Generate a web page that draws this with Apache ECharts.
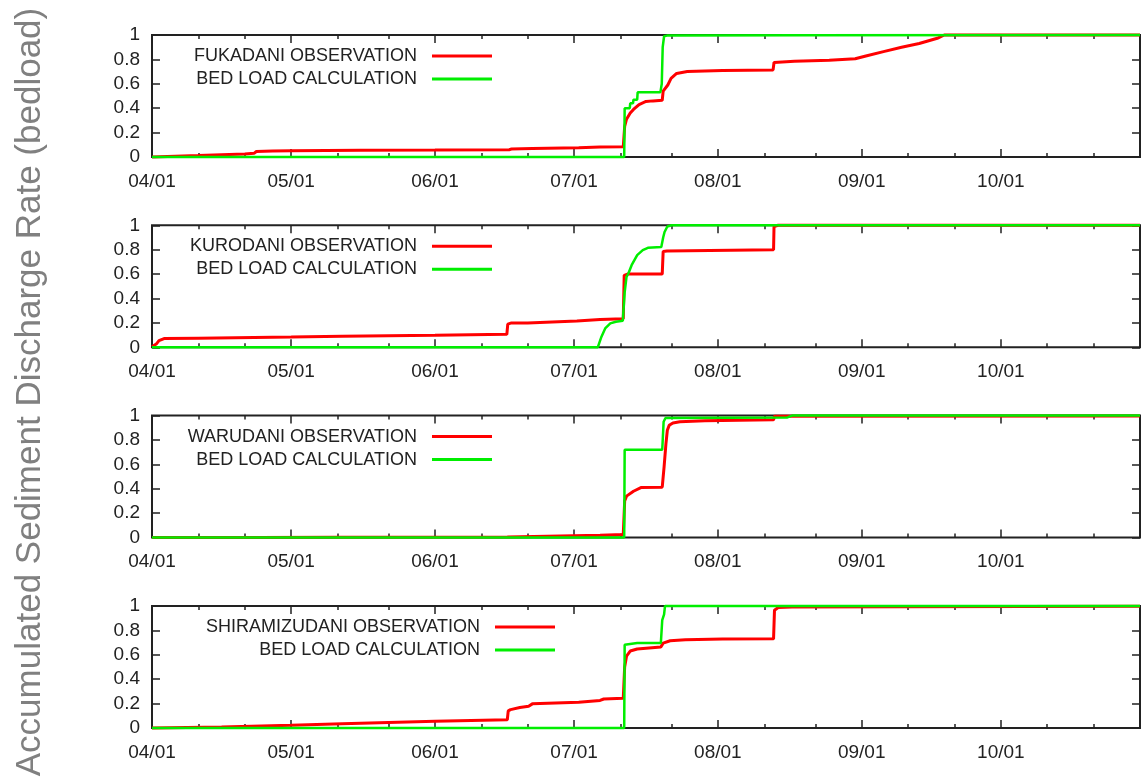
<!DOCTYPE html>
<html>
<head>
<meta charset="utf-8">
<title>Accumulated Sediment Discharge Rate (bedload)</title>
<script src="https://cdn.jsdelivr.net/npm/echarts@6/dist/echarts.min.js"></script>
<style>
  html, body { margin: 0; padding: 0; background: #fff; }
  #chart { width: 1148px; height: 782px; }
</style>
</head>
<body>
<div id="chart"></div>
<script>
// x values are days counted from 04/01
const monthStarts = [0, 30, 61, 91, 122, 153, 183];
const monthLabels = ['04/01', '05/01', '06/01', '07/01', '08/01', '09/01', '10/01'];
const minorTicks = [10, 20, 40, 51, 71, 81, 101, 112, 132, 143, 163, 173, 193, 203];
const lastDay = 213;

const stations = ['FUKADANI', 'KURODANI', 'WARUDANI', 'SHIRAMIZUDANI'];

// [day, accumulated rate]
const fukadaniObs = [
    [0, 0], [10, 0.012], [20, 0.025], [22, 0.03], [22.5, 0.045], [26, 0.05], [30, 0.052], [45, 0.055],
    [61, 0.057], [77, 0.06], [77.5, 0.065], [82, 0.07], [92, 0.075], [96.6, 0.082], [101.6, 0.085],
    [101.9, 0.25], [102.3, 0.31], [103.1, 0.36], [103.8, 0.39], [105, 0.43], [106.5, 0.455], [108, 0.46],
    [110, 0.465], [110.2, 0.54], [111.2, 0.59], [111.9, 0.645], [113.1, 0.685], [115.4, 0.7], [123, 0.708],
    [133.9, 0.714], [134.1, 0.775], [138.5, 0.785], [146, 0.793], [151.6, 0.805], [153.9, 0.828],
    [157.7, 0.864], [161.6, 0.9], [165.4, 0.93], [169.3, 0.973], [170.8, 1], [213, 1]
];
const fukadaniCalc = [
    [0, 0], [101.8, 0], [101.9, 0.4], [103, 0.4], [103.1, 0.44], [103.7, 0.44], [103.8, 0.47],
    [104.6, 0.47], [104.7, 0.53], [109.6, 0.53], [109.9, 0.6], [110.1, 0.9], [110.4, 0.99],
    [111, 0.995], [140, 0.998], [213, 1]
];

const kurodaniObs = [
    [0, 0.005], [0.3, 0.02], [1, 0.03], [1.5, 0.055], [2.6, 0.072], [10, 0.075], [30, 0.084], [41, 0.09],
    [61, 0.098], [76.5, 0.106], [76.7, 0.19], [77.5, 0.2], [81, 0.2], [91.6, 0.215], [96.6, 0.228],
    [101.6, 0.235], [101.8, 0.59], [102.5, 0.6], [110, 0.6], [110.2, 0.785], [111, 0.79], [134, 0.8],
    [134.1, 0.99], [135, 1], [213, 1]
];
const kurodaniCalc = [
    [0, 0], [96.1, 0], [96.9, 0.087], [97.7, 0.155], [98.8, 0.196], [100, 0.21], [101.5, 0.218],
    [101.9, 0.45], [102.3, 0.578], [102.7, 0.605], [103.4, 0.673], [104.6, 0.755], [105.8, 0.796],
    [106.9, 0.815], [109.8, 0.823], [110.2, 0.9], [110.5, 0.945], [111.1, 0.99], [112, 1], [213, 1]
];

const warudaniObs = [
    [0, 0], [23, 0], [40, 0.003], [76.6, 0.005], [77, 0.01], [96.6, 0.02], [101.6, 0.025],
    [101.9, 0.3], [102.3, 0.34], [102.7, 0.35], [103.8, 0.38], [105.4, 0.41], [110, 0.413],
    [110.4, 0.58], [110.8, 0.77], [111.1, 0.88], [111.5, 0.92], [112.3, 0.94], [113.8, 0.95],
    [119.2, 0.958], [134, 0.965], [134.2, 0.995], [213, 0.997]
];
const warudaniCalc = [
    [0, 0], [101.8, 0], [101.9, 0.72], [110, 0.72], [110.3, 0.95], [110.7, 0.98], [137, 0.985],
    [138, 1], [213, 1]
];

const shiramizuObs = [
    [0, 0], [15, 0.008], [30, 0.022], [41, 0.035], [61, 0.054], [76.6, 0.067], [76.8, 0.14],
    [77.3, 0.15], [79.3, 0.167], [81.2, 0.178], [82, 0.197], [92, 0.21], [96.6, 0.225], [97.4, 0.237],
    [101.6, 0.243], [101.9, 0.5], [102.3, 0.588], [103.1, 0.63], [104.6, 0.647], [109.7, 0.663],
    [110.2, 0.695], [111.7, 0.714], [115, 0.722], [123, 0.728], [134, 0.73], [134.2, 0.965],
    [135, 0.987], [138, 0.99], [213, 0.997]
];
const shiramizuCalc = [
    [0, 0], [101.8, 0], [101.9, 0.682], [104.6, 0.695], [109.7, 0.695], [110, 0.884], [110.4, 0.93],
    [110.6, 1], [213, 1]
];

const observed = [fukadaniObs, kurodaniObs, warudaniObs, shiramizuObs];
const calculated = [fukadaniCalc, kurodaniCalc, warudaniCalc, shiramizuCalc];

const chart = echarts.init(document.getElementById('chart'));
const font = '"Liberation Sans", Arial, sans-serif';
const ink = '#222';

let grid = [], xAxis = [], yAxis = [], legend = [], series = [];

function xAx(i, position, ticks, len, labels) {
    return {
        type: 'value', gridIndex: i, min: 0, max: lastDay, position: position,
        axisLine: { show: false, onZero: false },
        splitLine: { show: false },
        axisTick: { show: true, inside: true, length: len, customValues: ticks, lineStyle: { color: ink, width: 1.5 } },
        axisLabel: labels ? {
            show: true, customValues: monthStarts, margin: 15,
            fontSize: 19, color: ink, fontFamily: font,
            formatter: v => monthLabels[monthStarts.indexOf(v)]
        } : { show: false }
    };
}

function yAx(i, position, labels) {
    return {
        type: 'value', gridIndex: i, min: 0, max: 1, interval: 0.2, position: position,
        axisLine: { show: false, onZero: false },
        splitLine: { show: false },
        axisTick: { show: true, inside: true, length: 8, lineStyle: { color: ink, width: 1.5 } },
        axisLabel: labels ? { show: true, margin: 12, fontSize: 19, color: ink, fontFamily: font } : { show: false }
    };
}

stations.forEach((name, i) => {
    const top = 35 + i * 190.3;
    grid.push({
        left: 152, right: 8, top: top, height: 122,
        show: true, borderColor: ink, borderWidth: 2, outerBoundsMode: 'none'
    });

    const xi = xAxis.length;
    xAxis.push(xAx(i, 'bottom', monthStarts, 8, true));
    xAxis.push(xAx(i, 'bottom', minorTicks, 4, false));
    xAxis.push(xAx(i, 'top', monthStarts, 8, false));
    xAxis.push(xAx(i, 'top', minorTicks, 4, false));

    const yi = yAxis.length;
    yAxis.push(yAx(i, 'left', true));
    yAxis.push(yAx(i, 'right', false));

    const obsName = name + ' OBSERVATION';
    legend.push({
        data: [obsName, 'BED LOAD CALCULATION'],
        orient: 'vertical', align: 'right',
        right: i === 3 ? 593 : 656, top: top + 11,
        padding: 0, itemWidth: 60, itemHeight: 3, itemGap: 3,
        icon: 'rect', itemStyle: { borderWidth: 0 },
        selectedMode: false,
        formatter: n => n + '  ',
        textStyle: { fontSize: 18, color: ink, fontFamily: font, lineHeight: 20 }
    });

    series.push({
        type: 'line', name: obsName, xAxisIndex: xi, yAxisIndex: yi,
        data: observed[i], showSymbol: false, symbol: 'none',
        color: '#ff0000', lineStyle: { width: 3, color: '#ff0000' },
        clip: false, z: 3
    });
    series.push({
        type: 'line', name: 'BED LOAD CALCULATION', xAxisIndex: xi, yAxisIndex: yi,
        data: calculated[i], showSymbol: false, symbol: 'none',
        color: '#00ee00', lineStyle: { width: 2.5, color: '#00ee00' },
        clip: false, z: 4
    });
});

let option = {
    backgroundColor: '#fff',
    animation: false,
    textStyle: { fontFamily: font },
    grid: grid,
    xAxis: xAxis,
    yAxis: yAxis,
    legend: legend,
    series: series,
    graphic: [{
        type: 'text', x: 30, y: 392, rotation: Math.PI / 2,
        style: {
            text: 'Accumulated Sediment Discharge Rate (bedload)',
            fontSize: 35, fontFamily: font, fill: '#808080',
            align: 'center', verticalAlign: 'middle',
            textAlign: 'center', textVerticalAlign: 'middle'
        }
    }]
};

chart.setOption(option);
</script>
</body>
</html>
